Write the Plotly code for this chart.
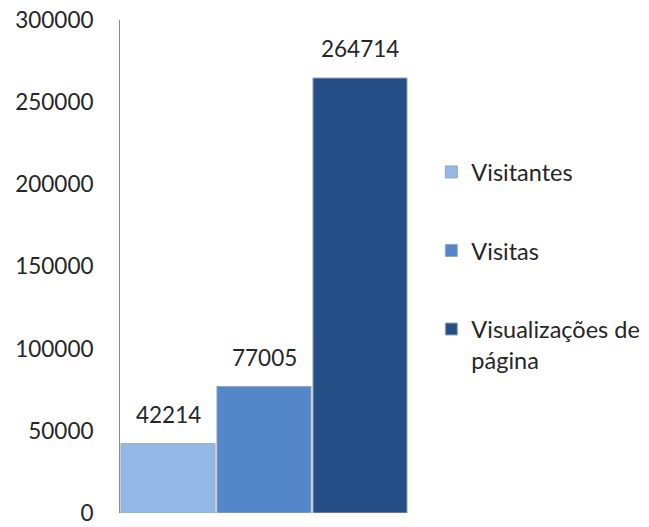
import plotly.graph_objects as go

series_names = ["Visitantes", "Visitas", "Visualizações de página"]
legend_labels = ["Visitantes", "Visitas", "Visualizações de<br>página"]
values = [42214, 77005, 264714]
colors = ["#93B8E8", "#5487C9", "#254E86"]
y_ticks = [0, 50000, 100000, 150000, 200000, 250000, 300000]

FONT = "Lato, Open Sans, sans-serif"
FS = 22.5

fig = go.Figure()
for name, lab, v, c in zip(series_names, legend_labels, values, colors):
    fig.add_trace(go.Bar(
        x=[name], y=[v], name=lab, legendgroup=name,
        marker=dict(color=c, line=dict(color="#9AA6B4", width=1)),
        hoverinfo="y",
    ))
    fig.add_annotation(x=name, y=v, text=str(v), showarrow=False,
                       yanchor="middle", yshift=29,
                       font=dict(family=FONT, size=FS, color="#262626"))

fig.update_layout(
    width=649, height=527,
    margin=dict(l=120, r=241, t=20, b=14, autoexpand=False),
    paper_bgcolor="white", plot_bgcolor="white",
    barmode="overlay", bargap=0.02,
    font=dict(family=FONT, size=FS, color="#262626"),
    showlegend=True,
    legend=dict(x=1.081, y=0.736, xanchor="left", yanchor="top",
                traceorder="grouped", tracegroupgap=45, valign="top",
                font=dict(family=FONT, size=23.5, color="#262626"),
                bgcolor="rgba(0,0,0,0)"),
    xaxis=dict(showticklabels=False, showgrid=False, zeroline=False,
               showline=False, ticks=""),
    yaxis=dict(range=[0, 300000], tickvals=y_ticks,
               ticktext=[str(t) for t in y_ticks],
               showgrid=False, zeroline=False, showline=True,
               linecolor="#8C8C8C", linewidth=1, ticks="",
               ticklabelstandoff=21, automargin=False,
               ticklabeloverflow="allow",
               tickfont=dict(family=FONT, size=FS, color="#262626")),
)

fig.write_html(
    "out.html",
    config={"displayModeBar": False},
    post_script="document.body.style.margin='0';document.body.style.overflow='hidden';",
)
